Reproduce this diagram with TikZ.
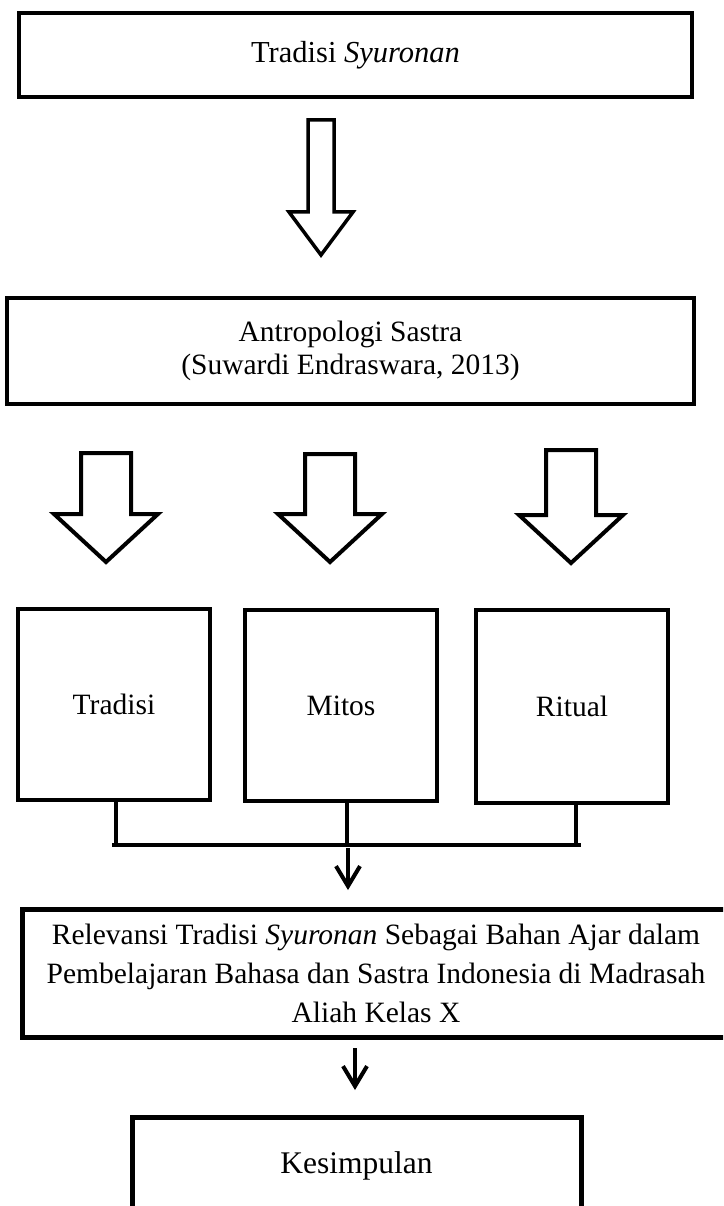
\documentclass[tikz,border=0pt]{standalone}
\usepackage{fontspec}
\setmainfont{Liberation Serif}
\usetikzlibrary{arrows.meta,calc}
\newcommand{\blockarrow}[7]{%
  \draw[line width=#7, line join=miter, miter limit=10]
    (#1-#3,#2) -- (#1+#3,#2) -- (#1+#3,#4) -- (#1+#5,#4) -- (#1,#6)
    -- (#1-#5,#4) -- (#1-#3,#4) -- cycle;}
\begin{document}
\begin{tikzpicture}[x=1pt,y=-1pt,
  bx/.style={draw, line width=#1, rectangle, inner sep=0pt, outer sep=0pt, align=center},
  fnt/.style={font=\fontsize{29.5pt}{29.5pt}\selectfont},
  conn/.style={line width=4pt},
  arr/.style={conn, -{Straight Barb[length=20pt, width=24pt]}}]
\useasboundingbox (0,0) rectangle (723,1206);
\clip (0,0) rectangle (723,1206);

% top box
\node[bx=4.5pt, font=\fontsize{30.5pt}{30.5pt}\selectfont, minimum width=673pt, minimum height=84pt] (t1) at (355.5,55)
  {Tradisi \textit{Syuronan}};

% big block arrow
\blockarrow{321}{120}{13}{212}{32}{255}{3.5pt}

% second box
\node[bx=4pt, font=\fontsize{29.5pt}{33pt}\selectfont, minimum width=687pt, minimum height=106pt] (t2) at (350.5,351)
  {Antropologi Sastra\\(Suwardi Endraswara, 2013)};

% three block arrows
\blockarrow{106}{453}{25}{514}{52}{562}{4pt}
\blockarrow{330}{454}{25}{514}{52}{562}{4pt}
\blockarrow{571}{450}{25}{515}{52}{563}{4pt}

% three boxes
\node[bx=4pt, fnt, minimum width=192pt, minimum height=191pt] (b1) at (114,704.5) {Tradisi};
\node[bx=4pt, fnt, minimum width=192pt, minimum height=191pt] (b2) at (341,705.5) {Mitos};
\node[bx=4pt, fnt, minimum width=192pt, minimum height=193pt] (b3) at (572,706.5) {Ritual};

% bracket connector
\coordinate (v1) at (116,845);
\coordinate (v2) at (347,845);
\coordinate (v3) at (576,845);
\coordinate (jl) at (112,845);
\coordinate (jr) at (581,845);
\draw[conn] (v1 |- b1.south) -- (v1);
\draw[conn] (v2 |- b2.south) -- (v2);
\draw[conn] (v3 |- b3.south) -- (v3);
\draw[conn] (jl) -- (jr);

% relevansi box
\node[bx=5pt, font=\fontsize{29.5pt}{39pt}\selectfont, minimum width=708pt, minimum height=128pt] (rel) at (376,973.5)
  {Relevansi Tradisi \textit{Syuronan} Sebagai Bahan Ajar dalam\\
   Pembelajaran Bahasa dan Sastra Indonesia di Madrasah\\
   Aliah Kelas X};

\coordinate (a1) at (348,848);
\draw[arr] (a1) -- ($(a1 |- rel.north)+(0,-19.5)$);

% kesimpulan box
\node[bx=5pt, font=\fontsize{31.5pt}{31.5pt}\selectfont, minimum width=449pt, minimum height=97pt] (kes) at (356.5,1166)
  {Kesimpulan};

\coordinate (a2) at (355,0);
\draw[arr] ($(a2 |- rel.south)+(0,10.5)$) -- ($(a2 |- kes.north)+(0,-27.5)$);
\end{tikzpicture}
\end{document}
